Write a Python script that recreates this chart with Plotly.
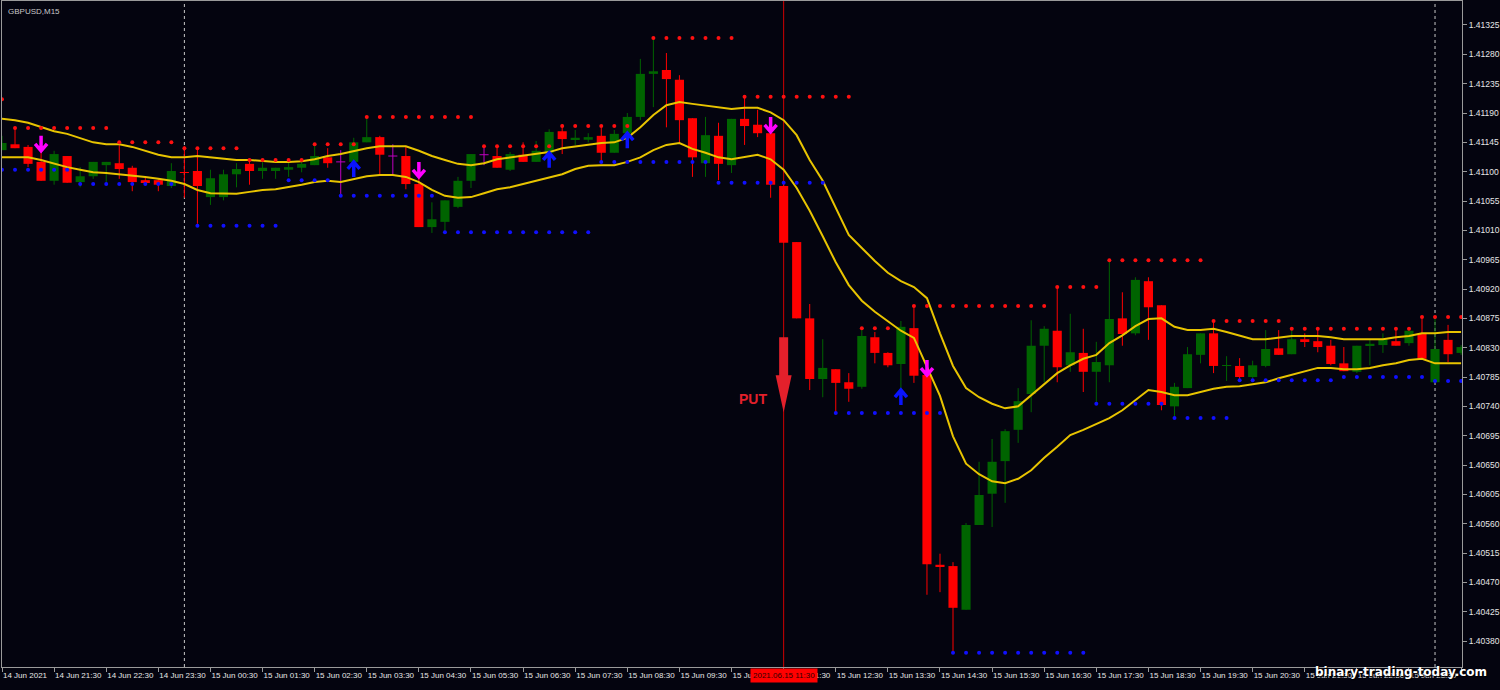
import plotly.graph_objects as go

# ---------------- data (GBPUSD M15, 14 Jun 20:30 -> 16 Jun 00:30) ----------------
bars = list(range(113))

opens = [1.41133, 1.41142, 1.41138, 1.41115, 1.41086, 1.41124, 1.41084, 1.41093, 1.41110, 1.41113,
         1.41106, 1.41087, 1.41087, 1.41078, 1.41099, 1.41101, 1.41061, 1.41061, 1.41096, 1.41112,
         1.41101, 1.41101, 1.41103, 1.41106, 1.41110, 1.41122, 1.41115, 1.41115, 1.41145, 1.41153,
         1.41124, 1.41124, 1.41081, 1.41015, 1.41023, 1.41046, 1.41086, 1.41126, 1.41124, 1.41103,
         1.41126, 1.41115, 1.41129, 1.41162, 1.41149, 1.41149, 1.41155, 1.41129, 1.41159, 1.41184,
         1.41250, 1.41256, 1.41241, 1.41182, 1.41113, 1.41155, 1.41110, 1.41181, 1.41172, 1.41159,
         1.41078, 1.40992, 1.40875, 1.40782, 1.40797, 1.40777, 1.40770, 1.40846, 1.40822, 1.40805,
         1.40860, 1.40788, 1.40497, 1.40495, 1.40428, 1.40558, 1.40606, 1.40656, 1.40704, 1.40759,
         1.40833, 1.40856, 1.40803, 1.40822, 1.40793, 1.40803, 1.40875, 1.40852, 1.40932, 1.40895,
         1.40740, 1.40768, 1.40819, 1.40852, 1.40802, 1.40802, 1.40785, 1.40802, 1.40829, 1.40820,
         1.40843, 1.40840, 1.40833, 1.40806, 1.40793, 1.40834, 1.40834, 1.40840, 1.40837, 1.40852,
         1.40777, 1.40842, 1.40822]

highs = [1.41155, 1.41167, 1.41141, 1.41132, 1.41132, 1.41124, 1.41107, 1.41115, 1.41115, 1.41145,
         1.41109, 1.41092, 1.41090, 1.41113, 1.41139, 1.41136, 1.41103, 1.41103, 1.41113, 1.41118,
         1.41115, 1.41106, 1.41115, 1.41118, 1.41141, 1.41136, 1.41133, 1.41152, 1.41184, 1.41155,
         1.41142, 1.41138, 1.41090, 1.41053, 1.41056, 1.41092, 1.41127, 1.41141, 1.41141, 1.41130,
         1.41145, 1.41147, 1.41165, 1.41173, 1.41164, 1.41159, 1.41168, 1.41164, 1.41190, 1.41273,
         1.41304, 1.41282, 1.41248, 1.41182, 1.41184, 1.41175, 1.41181, 1.41216, 1.41195, 1.41159,
         1.41081, 1.40992, 1.40897, 1.40843, 1.40797, 1.40791, 1.40860, 1.40854, 1.40823, 1.40871,
         1.40894, 1.40788, 1.40514, 1.40501, 1.40561, 1.40655, 1.40690, 1.40705, 1.40768, 1.40872,
         1.40863, 1.40923, 1.40882, 1.40859, 1.40839, 1.40966, 1.40915, 1.40938, 1.40938, 1.40895,
         1.40776, 1.40831, 1.40852, 1.40871, 1.40817, 1.40814, 1.40810, 1.40857, 1.40857, 1.40857,
         1.40852, 1.40859, 1.40842, 1.40831, 1.40833, 1.40843, 1.40852, 1.40860, 1.40860, 1.40875,
         1.40875, 1.40865, 1.40834]

lows = [1.41133, 1.41136, 1.41107, 1.41086, 1.41080, 1.41083, 1.41076, 1.41089, 1.41084, 1.41089,
        1.41070, 1.41080, 1.41070, 1.41075, 1.41060, 1.41020, 1.41049, 1.41056, 1.41076, 1.41080,
        1.41089, 1.41089, 1.41092, 1.41099, 1.41110, 1.41106, 1.41064, 1.41115, 1.41145, 1.41096,
        1.41095, 1.41073, 1.41015, 1.41006, 1.41007, 1.41044, 1.41075, 1.41110, 1.41106, 1.41101,
        1.41115, 1.41115, 1.41129, 1.41127, 1.41141, 1.41145, 1.41115, 1.41129, 1.41149, 1.41179,
        1.41199, 1.41168, 1.41144, 1.41092, 1.41092, 1.41087, 1.41098, 1.41141, 1.41153, 1.41060,
        1.40991, 1.40875, 1.40765, 1.40754, 1.40730, 1.40747, 1.40767, 1.40806, 1.40800, 1.40765,
        1.40776, 1.40451, 1.40455, 1.40363, 1.40428, 1.40558, 1.40555, 1.40592, 1.40684, 1.40731,
        1.40777, 1.40777, 1.40793, 1.40762, 1.40745, 1.40777, 1.40833, 1.40849, 1.40842, 1.40734,
        1.40724, 1.40768, 1.40806, 1.40791, 1.40779, 1.40779, 1.40783, 1.40800, 1.40819, 1.40820,
        1.40831, 1.40823, 1.40803, 1.40794, 1.40791, 1.40803, 1.40822, 1.40833, 1.40833, 1.40813,
        1.40777, 1.40808, 1.40819]

closes = [1.41144, 1.41136, 1.41112, 1.41086, 1.41127, 1.41083, 1.41093, 1.41115, 1.41115, 1.41104,
          1.41084, 1.41084, 1.41080, 1.41101, 1.41098, 1.41078, 1.41090, 1.41096, 1.41104, 1.41101,
          1.41106, 1.41106, 1.41107, 1.41112, 1.41124, 1.41113, 1.41115, 1.41145, 1.41153, 1.41126,
          1.41124, 1.41081, 1.41015, 1.41027, 1.41056, 1.41086, 1.41127, 1.41126, 1.41106, 1.41127,
          1.41115, 1.41132, 1.41161, 1.41150, 1.41152, 1.41153, 1.41129, 1.41158, 1.41184, 1.41250,
          1.41254, 1.41242, 1.41179, 1.41122, 1.41156, 1.41112, 1.41181, 1.41170, 1.41159, 1.41080,
          1.40991, 1.40875, 1.40782, 1.40799, 1.40776, 1.40767, 1.40848, 1.40822, 1.40803, 1.40862,
          1.40787, 1.40498, 1.40494, 1.40431, 1.40558, 1.40604, 1.40655, 1.40702, 1.40748, 1.40833,
          1.40859, 1.40800, 1.40823, 1.40793, 1.40808, 1.40874, 1.40851, 1.40934, 1.40892, 1.40742,
          1.40770, 1.40820, 1.40852, 1.40802, 1.40803, 1.40785, 1.40803, 1.40828, 1.40819, 1.40843,
          1.40840, 1.40831, 1.40805, 1.40794, 1.40833, 1.40836, 1.40843, 1.40833, 1.40856, 1.40813,
          1.40828, 1.40820, 1.40831]

upper_band = [1.41181, 1.41179, 1.41175, 1.41168, 1.41162, 1.41158, 1.41152, 1.41145, 1.41142, 1.41142,
              1.41138, 1.41132, 1.41126, 1.41122, 1.41122, 1.41124, 1.41122, 1.41119, 1.41118, 1.41118,
              1.41116, 1.41115, 1.41115, 1.41116, 1.41119, 1.41124, 1.41127, 1.41132, 1.41136, 1.41139,
              1.41139, 1.41139, 1.41132, 1.41124, 1.41118, 1.41112, 1.41110, 1.41113, 1.41119, 1.41122,
              1.41124, 1.41127, 1.41130, 1.41136, 1.41139, 1.41142, 1.41144, 1.41145, 1.41152, 1.41168,
              1.41187, 1.41202, 1.41207, 1.41204, 1.41201, 1.41198, 1.41196, 1.41198, 1.41198, 1.41191,
              1.41179, 1.41156, 1.41118, 1.41086, 1.41044, 1.41003, 1.40983, 1.40963, 1.40945, 1.40932,
              1.40923, 1.40906, 1.40852, 1.40802, 1.40768, 1.40754, 1.40744, 1.40737, 1.40740, 1.40757,
              1.40773, 1.40791, 1.40803, 1.40813, 1.40819, 1.40837, 1.40849, 1.40863, 1.40874, 1.40875,
              1.40862, 1.40857, 1.40857, 1.40859, 1.40854, 1.40848, 1.40843, 1.40843, 1.40846, 1.40848,
              1.40848, 1.40848, 1.40846, 1.40843, 1.40843, 1.40843, 1.40843, 1.40846, 1.40848, 1.40852,
              1.40852, 1.40854, 1.40854]

lower_band = [1.41122, 1.41122, 1.41122, 1.41118, 1.41112, 1.41107, 1.41103, 1.41099, 1.41098, 1.41096,
              1.41095, 1.41092, 1.41089, 1.41086, 1.41081, 1.41072, 1.41067, 1.41066, 1.41066, 1.41069,
              1.41072, 1.41073, 1.41076, 1.41080, 1.41084, 1.41086, 1.41084, 1.41089, 1.41093, 1.41095,
              1.41095, 1.41092, 1.41084, 1.41072, 1.41063, 1.41060, 1.41061, 1.41067, 1.41073, 1.41076,
              1.41081, 1.41087, 1.41092, 1.41096, 1.41104, 1.41109, 1.41110, 1.41110, 1.41115, 1.41122,
              1.41133, 1.41141, 1.41144, 1.41135, 1.41129, 1.41122, 1.41119, 1.41122, 1.41126, 1.41119,
              1.41103, 1.41075, 1.41040, 1.41001, 1.40961, 1.40926, 1.40902, 1.40885, 1.40871, 1.40856,
              1.40845, 1.40800, 1.40756, 1.40694, 1.40652, 1.40636, 1.40625, 1.40622, 1.40629, 1.40642,
              1.40661, 1.40678, 1.40696, 1.40704, 1.40713, 1.40722, 1.40734, 1.40750, 1.40765, 1.40762,
              1.40757, 1.40757, 1.40762, 1.40767, 1.40770, 1.40771, 1.40774, 1.40777, 1.40783, 1.40788,
              1.40793, 1.40799, 1.40799, 1.40797, 1.40797, 1.40799, 1.40803, 1.40806, 1.40811, 1.40813,
              1.40806, 1.40806, 1.40806]

resistance = [1.41211,
              1.41167, 1.41167, 1.41167, 1.41167, 1.41167, 1.41167, 1.41167, 1.41167,
              1.41145, 1.41145, 1.41145, 1.41145, 1.41145,
              1.41136, 1.41136, 1.41136, 1.41136, 1.41136,
              1.41118, 1.41118, 1.41118, 1.41118, 1.41118,
              1.41142, 1.41142, 1.41142, 1.41142,
              1.41184, 1.41184, 1.41184, 1.41184, 1.41184, 1.41184, 1.41184, 1.41184, 1.41184,
              1.41139, 1.41139, 1.41139, 1.41139, 1.41139, 1.41139,
              1.41170, 1.41170, 1.41170, 1.41170, 1.41170, 1.41170,
              None,
              1.41305, 1.41305, 1.41305, 1.41305, 1.41305, 1.41305, 1.41305,
              1.41215, 1.41215, 1.41215, 1.41215, 1.41215, 1.41215, 1.41215, 1.41215, 1.41215,
              1.40860, 1.40860, 1.40860,
              None,
              1.40894, 1.40894, 1.40894, 1.40894, 1.40894, 1.40894, 1.40894, 1.40894, 1.40894, 1.40894, 1.40894,
              1.40923, 1.40923, 1.40923, 1.40923,
              1.40964, 1.40964, 1.40964, 1.40964, 1.40964, 1.40964, 1.40964, 1.40964,
              1.40871, 1.40871, 1.40871, 1.40871, 1.40871, 1.40871,
              1.40859, 1.40859, 1.40859, 1.40859, 1.40859, 1.40859, 1.40859, 1.40859, 1.40859, 1.40859,
              1.40877, 1.40877, 1.40877, 1.40877]

support = [1.41103, 1.41103, 1.41103, 1.41103, 1.41103, 1.41103,
           1.41081, 1.41081, 1.41081, 1.41081, 1.41081, 1.41081, 1.41081, 1.41081,
           None,
           1.41017, 1.41017, 1.41017, 1.41017, 1.41017, 1.41017, 1.41017,
           1.41087, 1.41087, 1.41087, 1.41087,
           1.41063, 1.41063, 1.41063, 1.41063, 1.41063, 1.41063, 1.41063, 1.41063,
           1.41007, 1.41007, 1.41007, 1.41007, 1.41007, 1.41007, 1.41007, 1.41007, 1.41007, 1.41007, 1.41007, 1.41007,
           1.41115, 1.41115, 1.41115, 1.41115, 1.41115, 1.41115, 1.41115, 1.41115, 1.41115,
           1.41083, 1.41083, 1.41083, 1.41083, 1.41083, 1.41083, 1.41083, 1.41083, 1.41083,
           1.40730, 1.40730, 1.40730, 1.40730, 1.40730, 1.40730, 1.40730, 1.40730, 1.40730,
           1.40362, 1.40362, 1.40362, 1.40362, 1.40362, 1.40362, 1.40362, 1.40362, 1.40362, 1.40362, 1.40362,
           1.40744, 1.40744, 1.40744, 1.40744, 1.40744, 1.40744,
           1.40722, 1.40722, 1.40722, 1.40722, 1.40722,
           1.40780, 1.40780, 1.40780, 1.40780, 1.40780, 1.40780, 1.40780, 1.40780,
           1.40785, 1.40785, 1.40785, 1.40785, 1.40785, 1.40785, 1.40785,
           1.40779, 1.40779, 1.40779]

sell_bars = [3, 32, 59, 71]
sell_tips = [1.41132, 1.41092, 1.41161, 1.40788]
buy_bars = [27, 42, 48, 69]
buy_tips = [1.41115, 1.41129, 1.41159, 1.40765]

put_bar = 60
put_top = 1.40846
put_tip = 1.40731
put_text = "PUT"
signal_label = "2021.06.15 11:30"
day_separators = [14, 110]

tick_bars = [0, 4, 8, 12, 16, 20, 24, 28, 32, 36, 40, 44, 48, 52, 56, 60, 64, 68, 72, 76,
             80, 84, 88, 92, 96, 100, 104, 108, 112]
tick_texts = ["14 Jun 2021", "14 Jun 21:30", "14 Jun 22:30", "14 Jun 23:30", "15 Jun 00:30",
              "15 Jun 01:30", "15 Jun 02:30", "15 Jun 03:30", "15 Jun 04:30", "15 Jun 05:30",
              "15 Jun 06:30", "15 Jun 07:30", "15 Jun 08:30", "15 Jun 09:30", "15 Jun 10:30",
              "15 Jun 11:30", "15 Jun 12:30", "15 Jun 13:30", "15 Jun 14:30", "15 Jun 15:30",
              "15 Jun 16:30", "15 Jun 17:30", "15 Jun 18:30", "15 Jun 19:30", "15 Jun 20:30",
              "15 Jun 21:30", "15 Jun 22:30", "15 Jun 23:30", "16 Jun 00:30"]
price_ticks = [1.41325, 1.41280, 1.41235, 1.41190, 1.41145, 1.41100, 1.41055, 1.41010, 1.40965,
               1.40920, 1.40875, 1.40830, 1.40785, 1.40740, 1.40695, 1.40650, 1.40605, 1.40560,
               1.40515, 1.40470, 1.40425, 1.40380]

# ---------------- style ----------------
BG = "#04040F"
AXIS = "#9A9A9A"
TXT = "#E6E6E6"
BULL = "#006400"
BEAR = "#FF0000"
DOJI = "#C000C0"
BAND = "#E8C400"
XR = [0.0, 112.07]
YR = [1.403402, 1.413618]
PLOT_W, PLOT_H = 1460, 666
dxp = (XR[1] - XR[0]) / PLOT_W   # one pixel in bar units
dyp = (YR[1] - YR[0]) / PLOT_H   # one pixel in price units
BODY_W = 0.7

fig = go.Figure()

# wicks
wick = {BULL: ([], []), BEAR: ([], []), DOJI: ([], [])}
for i, o, h, l, c in zip(bars, opens, highs, lows, closes):
    col = BULL if c > o else (BEAR if c < o else DOJI)
    xs, ys = wick[col]
    xs += [i, i, None]
    ys += [l, h, None]
    if col == DOJI:
        xs += [i - BODY_W / 2, i + BODY_W / 2, None]
        ys += [o, o, None]
for col, (xs, ys) in wick.items():
    fig.add_trace(go.Scatter(x=xs, y=ys, mode="lines", line=dict(color=col, width=1),
                             hoverinfo="skip"))

# bodies
bx, bbase, bh, bcol = [], [], [], []
for i, o, c in zip(bars, opens, closes):
    if c == o:
        continue
    bx.append(i)
    bbase.append(min(o, c))
    bh.append(abs(c - o))
    bcol.append(BULL if c > o else BEAR)
fig.add_trace(go.Bar(x=bx, base=bbase, y=bh, width=BODY_W, marker=dict(color=bcol, line=dict(width=0)),
                     hoverinfo="skip"))

# envelope lines
fig.add_trace(go.Scatter(x=bars, y=upper_band, mode="lines", line=dict(color=BAND, width=2), hoverinfo="skip"))
fig.add_trace(go.Scatter(x=bars, y=lower_band, mode="lines", line=dict(color=BAND, width=2), hoverinfo="skip"))

# support / resistance dots
fig.add_trace(go.Scatter(x=bars, y=resistance, mode="markers",
                         marker=dict(color="#FF1010", size=4, symbol="circle"), hoverinfo="skip"))
fig.add_trace(go.Scatter(x=bars, y=support, mode="markers",
                         marker=dict(color="#1010FF", size=4, symbol="circle"), hoverinfo="skip"))

shapes = []
# signal vertical line and day separators
shapes.append(dict(type="line", xref="x", yref="paper", x0=put_bar, x1=put_bar, y0=0, y1=1,
                   line=dict(color="#D00000", width=1), layer="below"))
for d in day_separators:
    shapes.append(dict(type="line", xref="x", yref="paper", x0=d, x1=d, y0=0, y1=1,
                       line=dict(color="#C8C8C8", width=1, dash="dot"), layer="below"))

# sell arrows (down) and buy arrows (up)
def arrow_path(i, tip, direction):
    s = direction  # +1 down arrow (tail above tip), -1 up arrow (tail below)
    return (f"M {i},{tip + s*15*dyp} L {i},{tip + s*1*dyp} "
            f"M {i - 6*dxp},{tip + s*7*dyp} L {i},{tip} L {i + 6*dxp},{tip + s*7*dyp}")

for i, t in zip(sell_bars, sell_tips):
    shapes.append(dict(type="path", xref="x", yref="y", path=arrow_path(i, t, 1),
                       line=dict(color="#FF00FF", width=3.5)))
for i, t in zip(buy_bars, buy_tips):
    shapes.append(dict(type="path", xref="x", yref="y", path=arrow_path(i, t, -1),
                       line=dict(color="#0A14FF", width=3.5)))

# big PUT arrow
sb = put_tip + 37 * dyp
hw, sw = 8 * dxp, 4.5 * dxp
put_path = (f"M {put_bar - sw},{put_top} L {put_bar + sw},{put_top} L {put_bar + sw},{sb} "
            f"L {put_bar + hw},{sb} L {put_bar},{put_tip} L {put_bar - hw},{sb} L {put_bar - sw},{sb} Z")
shapes.append(dict(type="path", xref="x", yref="y", path=put_path,
                   fillcolor="#E3202B", line=dict(width=0)))

annotations = [
    dict(x=put_bar, y=put_tip, xref="x", yref="y", text=f"<b>{put_text}</b>", showarrow=False,
         xanchor="right", yanchor="bottom", xshift=-15, yshift=3,
         font=dict(family="Liberation Sans", size=14, color="#E3202B")),
    dict(x=0.0027, y=0.994, xref="paper", yref="paper", text="GBPUSD,M15", showarrow=False,
         xanchor="left", yanchor="top", font=dict(family="Liberation Sans", size=8, color="#C8C8C8")),
    dict(x=put_bar, y=0, xref="x", yref="paper", text=signal_label, showarrow=False,
         xanchor="center", yanchor="top", yshift=-1, bgcolor="#FF0000", borderpad=2,
         font=dict(family="Liberation Sans", size=8, color="#300000")),
    dict(x=1.0185, y=-0.0075, xref="paper", yref="paper", text="<b>binary-trading-today.com</b>",
         showarrow=False, xanchor="right", yanchor="middle",
         font=dict(family="DejaVu Sans", size=12, color="#FFFFFF", shadow="1px 1px 1px #000000")),
]

fig.update_layout(
    width=1500, height=690,
    margin=dict(l=2, r=38, t=1, b=23),
    paper_bgcolor=BG, plot_bgcolor=BG,
    showlegend=False, hovermode=False,
    shapes=shapes, annotations=annotations,
    xaxis=dict(range=XR, showgrid=False, zeroline=False, showline=True, linecolor=AXIS, linewidth=1,
               mirror=True, ticks="outside", ticklen=4, tickcolor=AXIS, tickvals=tick_bars,
               ticktext=tick_texts, tickangle=0, ticklabelposition="outside right",
               tickfont=dict(family="Liberation Sans", size=8, color=TXT), fixedrange=True),
    yaxis=dict(range=YR, side="right", showgrid=False, zeroline=False, showline=True, linecolor=AXIS,
               linewidth=1, mirror=True, ticks="outside", ticklen=4, tickcolor=AXIS,
               tickvals=price_ticks, ticktext=[f"{p:.5f}" for p in price_ticks],
               tickfont=dict(family="Liberation Sans", size=8.5, color=TXT), fixedrange=True),
)

fig.write_html("out.html", post_script="document.body.style.margin='0';",
               config={"displayModeBar": False})
